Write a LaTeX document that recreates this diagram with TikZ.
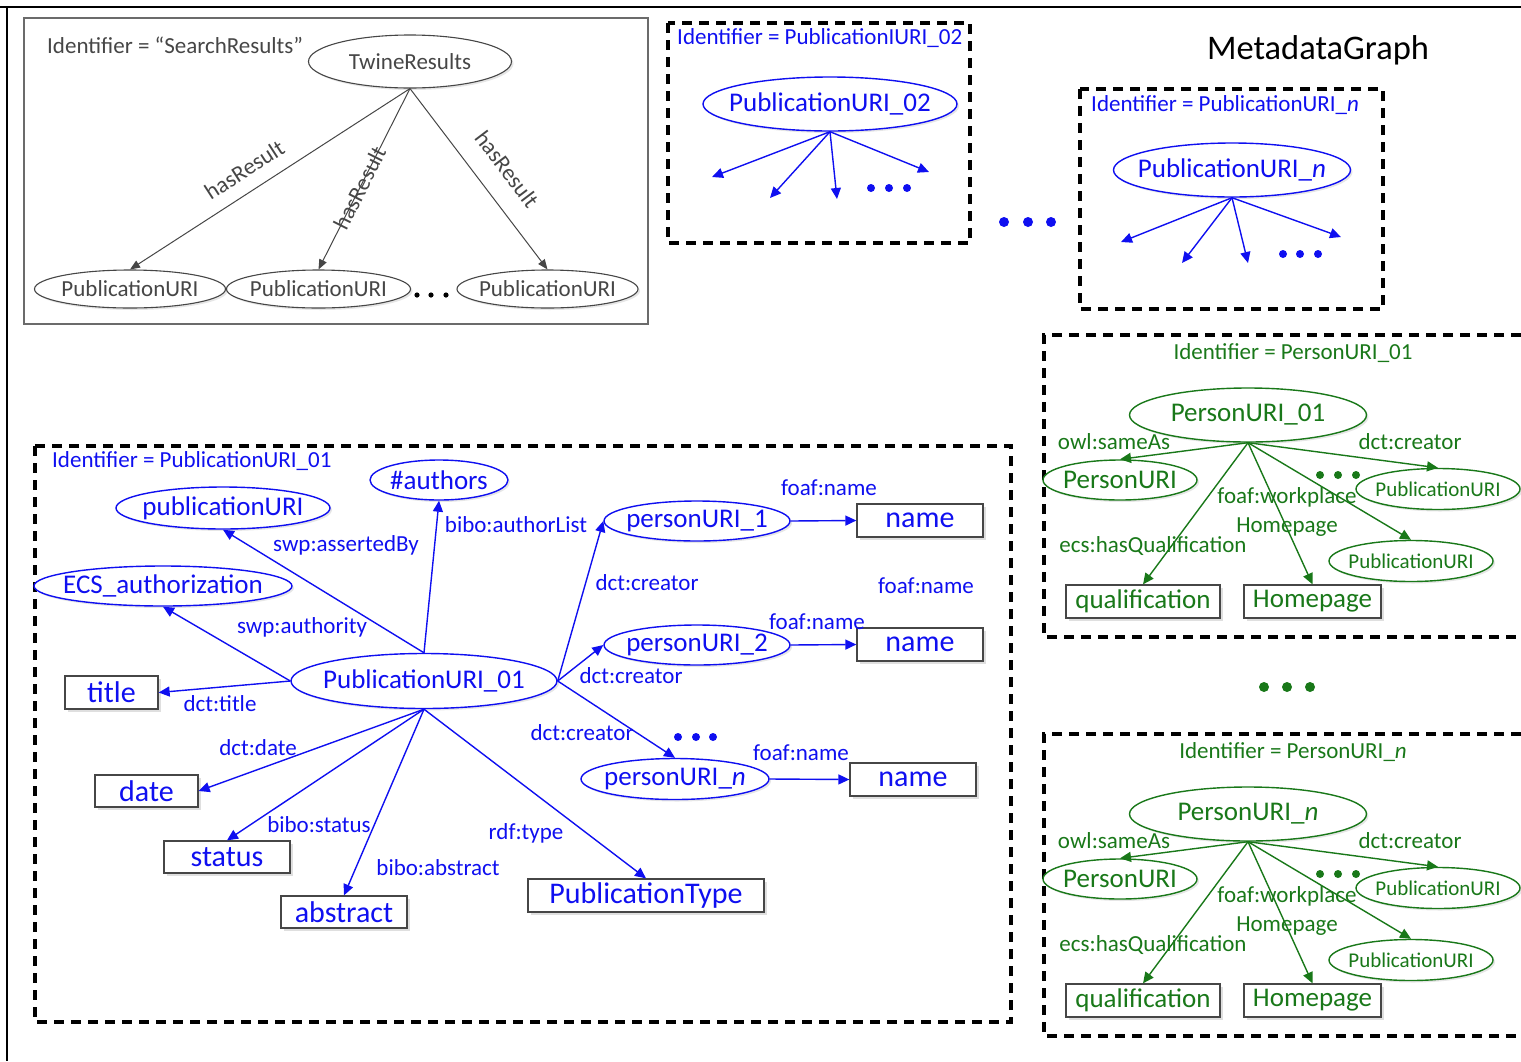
\documentclass[tikz,border=0pt]{standalone}
\usepackage{fontspec}
\setmainfont{Carlito}
\usetikzlibrary{arrows.meta,shapes.geometric,shadows}
\definecolor{rdfblue}{RGB}{15,15,240}
\definecolor{leaf}{RGB}{25,120,25}
\definecolor{slate}{RGB}{70,70,70}
\newcommand\lblfont{\fontsize{23}{29}\selectfont}
\newcommand\urifont{\fontsize{27}{32}\selectfont}
\newcommand\litfont{\fontsize{30}{36}\selectfont}
\newcommand\smallurifont{\fontsize{21}{25}\selectfont}
\tikzset{
  >={Triangle[length=11pt,width=10pt]},
  uri/.style={ellipse,draw=#1,text=#1,fill=white,line width=1.4pt,inner sep=0pt,
    font=\urifont,drop shadow={opacity=0.2,shadow xshift=2pt,shadow yshift=-2pt},
    execute at begin node={\hbox to 0pt\bgroup\hss},
    execute at end node={\hss\egroup}},
  uri/.default=rdfblue,
  lit/.style={draw=slate,text=#1,fill=white,line width=1.3pt,inner sep=0pt,
    font=\litfont,drop shadow={opacity=0.25,shadow xshift=2.5pt,shadow yshift=-2.5pt}},
  lit/.default=rdfblue,
  lbl/.style={text=#1,font=\lblfont,inner sep=1pt},
  lbl/.default=rdfblue,
  link/.style={->,line width=1.4pt,draw=#1},
  link/.default=rdfblue,
  graph/.style={draw=black,line width=3.3pt,dash pattern=on 10pt off 7pt},
}
\begin{document}
\begin{tikzpicture}[x=1pt,y=-1pt]
  \useasboundingbox (0,0) rectangle (1521,1061);
  \draw[line width=1.8pt] (0,7) -- (1521,7) (7,7) -- (7,1061);

  % search results
  \draw[slate!80,line width=1.3pt] (24,18) rectangle (648,324);
  \node[lbl=slate,anchor=west] (sid) at (46,45) {Identifier = ``SearchResults''};
  \node[uri=slate,font=\lblfont,line width=1.1pt,minimum width=203,minimum height=53] (twine) at (410,61.5) {TwineResults};
  \node[uri=slate,font=\lblfont,line width=1.1pt,minimum width=191,minimum height=38] (res1) at (130,289) {PublicationURI};
  \node[uri=slate,font=\lblfont,line width=1.1pt,minimum width=184,minimum height=38] (res2) at (318.5,289) {PublicationURI};
  \node[uri=slate,font=\lblfont,line width=1.1pt,minimum width=181,minimum height=38] (res3) at (547.5,289) {PublicationURI};
  \foreach \x in {417,431,446} \fill[black] (\x,295) circle (2.6);
  \draw[link=slate,line width=1pt,-{Triangle[length=10pt,width=8pt]}] (twine.south) -- node[lbl=slate,sloped,above=12pt,pos=.55] (hr1) {hasResult} (res1.north);
  \draw[link=slate,line width=1pt,-{Triangle[length=10pt,width=8pt]}] (twine.south) -- node[lbl=slate,sloped,pos=.55] (hr2) {hasResult} (res2.north);
  \draw[link=slate,line width=1pt,-{Triangle[length=10pt,width=8pt]}] (twine.south) -- node[lbl=slate,sloped,above=19pt,pos=.54] (hr3) {hasResult} (res3.north);

  % other publications
  \draw[graph] (668,23) rectangle (970,243);
  \node[lbl,anchor=west] (id02) at (676,38) {Identifier = PublicationIURI\_02};
  \node[uri,minimum width=254,minimum height=54] (pub02) at (830,104) {PublicationURI\_02};
  \foreach \x/\y [count=\i] in {712/177,770/198,837/199,929/172}{
    \coordinate (e02\i) at (\x,\y);
    \draw[link] (pub02.south) -- (e02\i);
  }
  \foreach \x in {871,889,907} \fill[rdfblue] (\x,188) circle (4);
  \foreach \x in {1004,1028,1051} \fill[rdfblue] (\x,222) circle (5);
  \node[font=\fontsize{34.5}{40}\selectfont] (mgraph) at (1318,50) {MetadataGraph};
  \draw[graph] (1080,89) rectangle (1383,309);
  \node[lbl,anchor=west] (idn) at (1090,105) {Identifier = PublicationURI\_\textit{n}};
  \node[uri,minimum width=237,minimum height=54] (pubn) at (1232,170) {PublicationURI\_\textit{n}};
  \foreach \x/\y [count=\i] in {1121/242,1182/263,1248/263,1341/237}{
    \coordinate (en\i) at (\x,\y);
    \draw[link] (pubn.south) -- (en\i);
  }
  \foreach \x in {1283,1300,1318} \fill[rdfblue] (\x,254) circle (4);

  % publication 01
  \draw[graph] (35,446) rectangle (1011,1022);
  \node[lbl,anchor=west] (id01) at (51,461) {Identifier = PublicationURI\_01};
  \node[uri,minimum width=266,minimum height=55] (pub) at (424,681) {PublicationURI\_01};
  \node[uri,minimum width=138,minimum height=40] (authors) at (439,480) {\#authors};
  \node[uri,minimum width=214,minimum height=42] (puburi) at (223,508) {publicationURI};
  \node[uri,minimum width=258,minimum height=40] (ecs) at (163,586) {ECS\_authorization};
  \node[uri,minimum width=186,minimum height=40] (per1) at (697,521) {personURI\_1};
  \node[uri,minimum width=186,minimum height=40] (per2) at (697,645) {personURI\_2};
  \node[uri,minimum width=188,minimum height=41] (pern) at (675,779) {personURI\_\textit{n}};
  \node[lit,minimum width=93,minimum height=33] (title) at (111.5,692.5) {title};
  \node[lit,minimum width=103,minimum height=32] (date) at (146.5,791) {date};
  \node[lit,minimum width=126,minimum height=32] (status) at (227,857) {status};
  \node[lit,minimum width=126,minimum height=32] (abstract) at (344,912) {abstract};
  \node[lit,minimum width=236,minimum height=33] (ptype) at (646,895.5) {PublicationType};
  \node[lit,minimum width=126,minimum height=33] (name1) at (920,520.5) {name};
  \node[lit,minimum width=126,minimum height=33] (name2) at (920,644.5) {name};
  \node[lit,minimum width=126,minimum height=33] (name3) at (913,779.5) {name};

  \draw[link] (pub.north) -- (authors.south);
  \draw[link] (pub.north) -- (puburi.south);
  \draw[link] (pub.west) -- (ecs.south);
  \draw[link] (pub.west) -- (title.east);
  \draw[link] (pub.east) -- (per1.west);
  \draw[link] (pub.east) -- (per2.west);
  \draw[link] (pub.east) -- (pern.north);
  \draw[link] (pub.south) -- (date.east);
  \draw[link] (pub.south) -- (status.north);
  \draw[link] (pub.south) -- (abstract.north);
  \draw[link] (pub.south) -- (ptype.north);
  \draw[link] (per1.east) -- (name1.west);
  \draw[link] (per2.east) -- (name2.west);
  \draw[link] (pern.east) -- (name3.west);
  \foreach \x in {678,696,713} \fill[rdfblue] (\x,737) circle (4);

  \node[lbl] (l-list) at (516,525) {bibo:authorList};
  \node[lbl] (l-asrt) at (346,545) {swp:assertedBy};
  \node[lbl] (l-auth) at (302,627) {swp:authority};
  \node[lbl] (l-title) at (220,704) {dct:title};
  \node[lbl] (l-cre1) at (647,583) {dct:creator};
  \node[lbl] (l-cre2) at (631,676) {dct:creator};
  \node[lbl] (l-cre3) at (582,733) {dct:creator};
  \node[lbl] (l-nam1) at (829,488) {foaf:name};
  \node[lbl] (l-nam0) at (926,586) {foaf:name};
  \node[lbl] (l-nam2) at (817,622) {foaf:name};
  \node[lbl] (l-nam3) at (801,753) {foaf:name};
  \node[lbl] (l-date) at (258,748) {dct:date};
  \node[lbl] (l-stat) at (319,825) {bibo:status};
  \node[lbl] (l-abst) at (438,868) {bibo:abstract};
  \node[lbl] (l-type) at (526,833) {rdf:type};

  % persons
  \foreach \dy/\k/\sfx in {0/a/01,399/b/{\textit{n}}}{
    \begin{scope}[shift={(0,\dy)}]
      \draw[graph] (1521,335) -- (1044,335) -- (1044,637) -- (1521,637);
      \node[lbl=leaf] (pid\k) at (1293,353) {Identifier = PersonURI\_\sfx};
      \node[uri=leaf,minimum width=237,minimum height=54] (pm\k) at (1248,415) {PersonURI\_\sfx};
      \node[uri=leaf,minimum width=154,minimum height=40] (ps\k) at (1120,480) {PersonURI};
      \node[uri=leaf,font=\smallurifont,minimum width=164,minimum height=41] (pa\k) at (1438,489) {PublicationURI};
      \node[uri=leaf,font=\smallurifont,minimum width=164,minimum height=41] (pb\k) at (1411,561) {PublicationURI};
      \node[lit=leaf,font=\urifont,minimum width=154,minimum height=33] (pq\k) at (1143,601.5) {qualification};
      \node[lit=leaf,font=\urifont,minimum width=137,minimum height=33] (ph\k) at (1312.5,601.5) {Homepage};
      \draw[link=leaf] (pm\k.south) -- (ps\k.north);
      \draw[link=leaf] (pm\k.south) -- (pa\k.north);
      \draw[link=leaf] (pm\k.south) -- (pb\k.north);
      \draw[link=leaf] (pm\k.south) -- (ph\k.north);
      \draw[link=leaf] (pm\k.south) -- (pq\k.north);
      \foreach \x in {1320,1338,1356} \fill[leaf] (\x,475) circle (4);
      \node[lbl=leaf] (lsm\k) at (1114,442) {owl:sameAs};
      \node[lbl=leaf] (lcr\k) at (1410,442) {dct:creator};
      \node[lbl=leaf,align=center] (lwp\k) at (1287,512) {foaf:workplace\\Homepage};
      \node[lbl=leaf] (lq\k) at (1153,546) {ecs:hasQualification};
    \end{scope}
  }
  \foreach \x in {1264,1287,1310} \fill[leaf] (\x,687) circle (5);
\end{tikzpicture}
\end{document}
